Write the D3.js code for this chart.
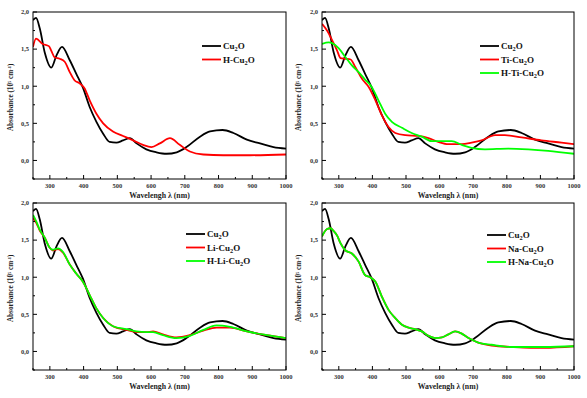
<!DOCTYPE html>
<html>
<head>
<meta charset="utf-8">
<script src="https://d3js.org/d3.v7.min.js"></script>
<style>
  body { margin: 0; background: #fff; }
  text { font-family: "Liberation Serif", "DejaVu Serif", serif; font-weight: bold; }
</style>
</head>
<body>
<svg width="587" height="398"></svg>
<script>
// tick labels
var xTicks = [300, 400, 500, 600, 700, 800, 900, 1000];
var yTicks = [0, 0.5, 1.0, 1.5, 2.0];

// pristine Cu2O (same in every panel)
var cu2oWl  = [250, 259, 270, 285, 304, 320, 336, 359, 378, 398, 418, 438, 458, 477, 497, 517, 537, 557, 586, 616, 646, 676, 705, 745, 775, 812, 844, 884, 923, 963, 1000];
var cu2oAbs = [1.89, 1.92, 1.78, 1.45, 1.25, 1.42, 1.53, 1.35, 1.17, 0.98, 0.72, 0.52, 0.36, 0.25, 0.24, 0.27, 0.30, 0.23, 0.15, 0.11, 0.09, 0.11, 0.18, 0.32, 0.39, 0.41, 0.37, 0.28, 0.23, 0.18, 0.16];

// H-Cu2O
var hCuWl  = [250, 259, 279, 297, 304, 314, 329, 344, 359, 373, 388, 403, 418, 438, 458, 487, 517, 547, 576, 601, 626, 656, 685, 715, 755, 814, 894, 1000];
var hCuAbs = [1.53, 1.64, 1.57, 1.54, 1.48, 1.39, 1.37, 1.33, 1.19, 1.08, 1.04, 0.97, 0.81, 0.63, 0.50, 0.39, 0.33, 0.27, 0.21, 0.18, 0.23, 0.30, 0.21, 0.12, 0.08, 0.07, 0.07, 0.08];

// Ti-Cu2O
var tiWl  = [250, 265, 280, 295, 305, 320, 335, 349, 369, 389, 409, 428, 448, 468, 498, 537, 567, 596, 626, 666, 695, 725, 765, 794, 844, 903, 963, 1000];
var tiAbs = [1.84, 1.75, 1.62, 1.48, 1.38, 1.37, 1.36, 1.26, 1.10, 0.99, 0.81, 0.61, 0.45, 0.37, 0.34, 0.33, 0.30, 0.25, 0.22, 0.22, 0.24, 0.27, 0.34, 0.34, 0.31, 0.27, 0.24, 0.22];

// H-Ti-Cu2O
var hTiWl  = [250, 270, 280, 300, 320, 339, 359, 378, 398, 418, 438, 458, 488, 517, 547, 577, 607, 636, 666, 695, 735, 804, 864, 923, 1000];
var hTiAbs = [1.57, 1.59, 1.58, 1.51, 1.39, 1.28, 1.19, 1.09, 0.99, 0.81, 0.63, 0.52, 0.44, 0.37, 0.32, 0.26, 0.26, 0.26, 0.21, 0.17, 0.15, 0.16, 0.15, 0.13, 0.09];

// Li-Cu2O
var liWl  = [250, 260, 270, 284, 299, 309, 324, 339, 359, 378, 398, 418, 438, 458, 487, 527, 557, 586, 606, 635, 675, 715, 755, 794, 834, 884, 943, 1000];
var liAbs = [1.80, 1.73, 1.63, 1.54, 1.40, 1.36, 1.38, 1.33, 1.17, 1.05, 0.94, 0.76, 0.58, 0.45, 0.34, 0.29, 0.26, 0.26, 0.27, 0.23, 0.19, 0.22, 0.28, 0.32, 0.32, 0.27, 0.22, 0.18];

// H-Li-Cu2O
var hLiWl  = [250, 260, 270, 284, 299, 309, 324, 339, 359, 378, 398, 418, 438, 458, 487, 527, 557, 586, 606, 635, 675, 715, 755, 794, 834, 884, 943, 1000];
var hLiAbs = [1.84, 1.75, 1.64, 1.54, 1.40, 1.37, 1.39, 1.34, 1.17, 1.05, 0.94, 0.76, 0.58, 0.45, 0.34, 0.30, 0.27, 0.26, 0.26, 0.22, 0.18, 0.21, 0.29, 0.35, 0.33, 0.27, 0.22, 0.18];

// Na-Cu2O
var naWl  = [250, 265, 275, 285, 295, 305, 320, 339, 359, 378, 393, 409, 428, 448, 468, 488, 508, 527, 547, 567, 587, 607, 626, 646, 666, 686, 715, 755, 815, 870, 913, 1000];
var naAbs = [1.55, 1.65, 1.66, 1.62, 1.56, 1.46, 1.36, 1.32, 1.21, 1.03, 1.00, 0.94, 0.74, 0.56, 0.45, 0.36, 0.32, 0.30, 0.27, 0.21, 0.18, 0.19, 0.23, 0.27, 0.24, 0.18, 0.12, 0.08, 0.06, 0.05, 0.05, 0.07];

// H-Na-Cu2O
var hNaWl  = [250, 265, 275, 285, 295, 305, 320, 339, 359, 378, 393, 409, 428, 448, 468, 488, 508, 527, 547, 567, 587, 607, 626, 646, 666, 686, 715, 755, 815, 870, 913, 1000];
var hNaAbs = [1.55, 1.65, 1.66, 1.62, 1.56, 1.46, 1.36, 1.32, 1.21, 1.03, 1.00, 0.94, 0.74, 0.56, 0.45, 0.36, 0.32, 0.30, 0.27, 0.21, 0.18, 0.19, 0.23, 0.27, 0.24, 0.18, 0.12, 0.09, 0.06, 0.06, 0.06, 0.07];

function zip(xs, ys) { return xs.map(function (x, i) { return [x, ys[i]]; }); }

var black = { name: ["Cu", "2", "O"], color: "#000", data: zip(cu2oWl, cu2oAbs) };

var panels = [
    { left: 33, top: 12, width: 253, height: 167, leg: [202, 46], ytx: 13,
      series: [black, { name: ["H-Cu", "2", "O"], color: "#ff0000", data: zip(hCuWl, hCuAbs) }] },
    { left: 322, top: 12, width: 252, height: 167, leg: [480, 46], ytx: 301,
      series: [black, { name: ["Ti-Cu", "2", "O"], color: "#ff0000", data: zip(tiWl, tiAbs) },
               { name: ["H-Ti-Cu", "2", "O"], color: "#00ff00", data: zip(hTiWl, hTiAbs) }] },
    { left: 33, top: 203, width: 253, height: 167, leg: [186, 234], ytx: 13,
      series: [black, { name: ["Li-Cu", "2", "O"], color: "#ff0000", data: zip(liWl, liAbs) },
               { name: ["H-Li-Cu", "2", "O"], color: "#00ff00", data: zip(hLiWl, hLiAbs) }] },
    { left: 322, top: 203, width: 252, height: 167, leg: [487, 235], ytx: 301,
      series: [black, { name: ["Na-Cu", "2", "O"], color: "#ff0000", data: zip(naWl, naAbs) },
               { name: ["H-Na-Cu", "2", "O"], color: "#00ff00", data: zip(hNaWl, hNaAbs) }] }
];

var svg = d3.select("svg");

panels.forEach(function (p) {
    var x = d3.scaleLinear().domain([250, 1000]).range([p.left, p.left + p.width]);
    var y = d3.scaleLinear().domain([-0.25, 2.0]).range([p.top + p.height, p.top]);
    var g = svg.append("g");

    // clip
    var cid = "c" + p.left + "_" + p.top;
    g.append("clipPath").attr("id", cid).append("rect")
        .attr("x", p.left).attr("y", p.top).attr("width", p.width).attr("height", p.height);

    var line = d3.line().x(function (d) { return x(d[0]); }).y(function (d) { return y(d[1]); })
        .curve(d3.curveMonotoneX);

    p.series.forEach(function (s) {
        g.append("path").attr("d", line(s.data)).attr("fill", "none")
            .attr("stroke", s.color).attr("stroke-width", 1.8)
            .attr("clip-path", "url(#" + cid + ")");
    });

    // frame
    g.append("rect").attr("x", p.left).attr("y", p.top).attr("width", p.width).attr("height", p.height)
        .attr("fill", "none").attr("stroke", "#000").attr("stroke-width", 1);

    // x axis ticks inward
    var xb = p.top + p.height;
    var xMinor = d3.range(250, 1001, 50);
    g.selectAll(null).data(xMinor).enter().append("line")
        .attr("x1", function (d) { return x(d); }).attr("x2", function (d) { return x(d); })
        .attr("y1", xb).attr("y2", function (d) { return d % 100 === 0 ? xb - 4 : xb - 2; })
        .attr("stroke", "#000").attr("stroke-width", 1);
    g.selectAll(null).data(xTicks).enter().append("text")
        .attr("x", function (d) { return x(d); }).attr("y", xb + 9)
        .attr("text-anchor", "middle").attr("font-size", 6.5).attr("fill", "#333")
        .text(function (d) { return d; });

    // y axis ticks inward
    var yMinor = d3.range(-0.25, 2.01, 0.25);
    g.selectAll(null).data(yMinor).enter().append("line")
        .attr("y1", function (d) { return y(d); }).attr("y2", function (d) { return y(d); })
        .attr("x1", p.left).attr("x2", function (d) { return Math.abs(d * 2 - Math.round(d * 2)) < 1e-6 ? p.left + 4 : p.left + 2; })
        .attr("stroke", "#000").attr("stroke-width", 1);
    var fmt = function (d) { return d.toFixed(1).replace(".", ","); };
    g.selectAll(null).data(yTicks).enter().append("text")
        .attr("x", p.left - 4).attr("y", function (d) { return y(d) + 2.3; })
        .attr("text-anchor", "end").attr("font-size", 6.5).attr("fill", "#333")
        .text(fmt);

    // axis titles
    g.append("text").attr("x", p.left + p.width / 2).attr("y", xb + 19)
        .attr("text-anchor", "middle").attr("font-size", 7.8).attr("fill", "#222")
        .text("Wavelengh \u03bb (nm)");

    var ty = y(0.85);
    var yt = g.append("text").attr("transform", "translate(" + p.ytx + "," + ty + ") rotate(-90)")
        .attr("text-anchor", "middle").attr("font-size", 7.2).attr("fill", "#222");
    yt.append("tspan").text("Absorbance (10");
    yt.append("tspan").attr("dy", -2.5).attr("font-size", 4.5).text("5");
    yt.append("tspan").attr("dy", 2.5).text(" cm");
    yt.append("tspan").attr("dy", -2.5).attr("font-size", 4.5).text("-1");
    yt.append("tspan").attr("dy", 2.5).text(")");

    // legend
    p.series.forEach(function (s, i) {
        var ly = p.leg[1] + i * 13.5;
        g.append("line").attr("x1", p.leg[0]).attr("x2", p.leg[0] + 19)
            .attr("y1", ly).attr("y2", ly).attr("stroke", s.color).attr("stroke-width", 1.8);
        var t = g.append("text").attr("x", p.leg[0] + 21).attr("y", ly + 3)
            .attr("font-size", 9).attr("fill", "#111");
        t.append("tspan").text(s.name[0]);
        t.append("tspan").attr("dy", 2).attr("font-size", 6.3).text(s.name[1]);
        t.append("tspan").attr("dy", -2).text(s.name[2]);
    });
});
</script>
</body>
</html>
